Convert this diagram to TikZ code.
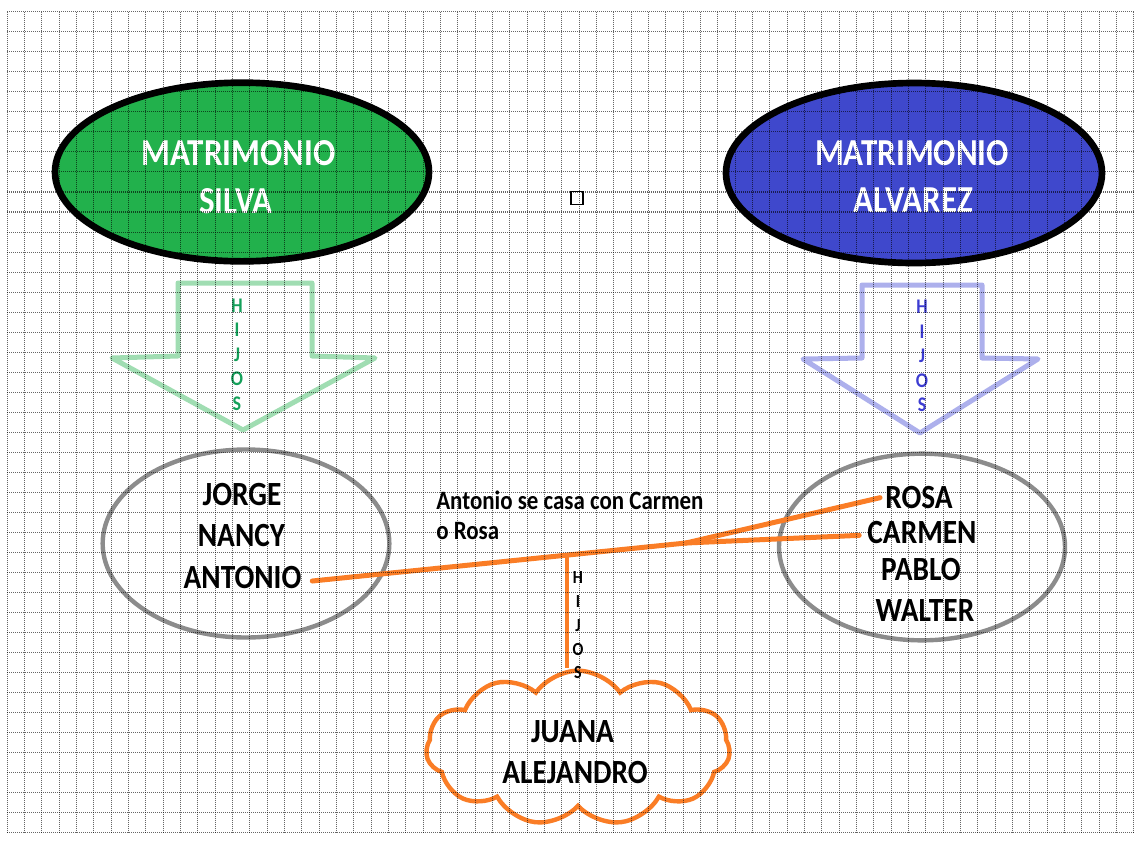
\documentclass[tikz,border=0pt]{standalone}
\usepackage{fontspec}
\setmainfont{Carlito}
\usepackage{graphicx}
\usetikzlibrary{shapes.geometric,shapes.symbols}
\definecolor{fgreen}{RGB}{34,177,76}
\definecolor{fblue}{RGB}{63,72,204}
\definecolor{forange}{RGB}{250,125,38}
\definecolor{fgray}{RGB}{140,140,140}
\definecolor{agreen}{RGB}{150,218,170}
\definecolor{ablue}{RGB}{165,168,235}
\definecolor{tgreen}{RGB}{20,160,90}
\definecolor{tblue}{RGB}{60,60,210}
\newcommand{\vstr}[1]{\scalebox{1}[1.155]{#1}}
\begin{document}
\begin{tikzpicture}[x=0.75pt,y=-0.75pt,
  title/.style={font=\fontsize{24.75}{36}\selectfont\bfseries, text=white, inner sep=0pt, anchor=base},
  person/.style={font=\fontsize{22}{30}\selectfont\bfseries, text=black, inner sep=0pt, anchor=base},
  note/.style={font=\fontsize{17.2}{22.5}\selectfont\bfseries, text=black, inner sep=0pt, align=left},
  hijosg/.style={font=\fontsize{13.5}{18.4}\selectfont\bfseries, inner sep=0pt, align=center, anchor=north},
  hijosk/.style={font=\fontsize{12}{17.8}\selectfont\bfseries, text=black, inner sep=0pt, align=center, anchor=north},
  family/.style={ellipse, draw=black, line width=5pt, inner sep=0pt},
  group/.style={ellipse, draw=fgray, line width=3.3pt, inner sep=0pt, minimum width=215pt, minimum height=141pt},
  blockarrow/.style={line width=3.75pt, line join=round, opacity=0.9},
  conn/.style={draw=forange, line width=3.75pt, line cap=round},
  conndown/.style={draw=forange, line width=3pt},
  gridline/.style={black, opacity=0.6, line width=0.8pt, dash pattern=on 0.75pt off 0.75pt}
]
\useasboundingbox (0,0) rectangle (1136,840);
\fill[white] (0,0) rectangle (1136,840);

% marriages
\node[family, fill=fgreen, minimum width=280.5pt, minimum height=134pt] (silva) at (242,172) {};
\node[family, fill=fblue, minimum width=282pt, minimum height=135pt] (alvarez) at (914,173) {};
\node[title] (t1a) at (238.5,165) {\vstr{MATRIMONIO}};
\node[title] (t1b) at (236,213) {\vstr{SILVA}};
\node[title] (t2a) at (912,165) {\vstr{MATRIMONIO}};
\node[title] (t2b) at (913.5,212) {\vstr{ALVAREZ}};

% small square
\node[draw=black, line width=1.2pt, minimum width=9pt, minimum height=10pt, inner sep=0pt] (sq) at (577,198) {};

% block arrows
\draw[blockarrow, draw=agreen] (178,283) -- (312,283) -- (312,356) -- (375,358) -- (243,430) -- (112,358) -- (178,356) -- cycle;
\draw[blockarrow, draw=ablue] (862,285) -- (982,285) -- (982,358) -- (1038,359) -- (920,433) -- (803,359) -- (862,358) -- cycle;
\node[hijosg, text=tgreen] (hg) at (237,298.3) {\vstr{H}\\\vstr{I}\\\vstr{J}\\\vstr{O}\\\vstr{S}};
\node[hijosg, text=tblue] (hb) at (922,300) {\vstr{H}\\\vstr{I}\\\vstr{J}\\\vstr{O}\\\vstr{S}};

% children groups
\node[group] (gsilva) at (246,543.5) {};
\node[group, minimum width=214.5pt, minimum height=140pt] (galvarez) at (922,547) {};
\node[person] (jorge) at (242,505) {\vstr{JORGE}};
\node[person] (nancy) at (241.5,546) {\vstr{NANCY}};
\node[person] (antonio) at (242.5,588) {\vstr{ANTONIO}};
\node[person] (rosa) at (919,508) {\vstr{ROSA}};
\node[person] (carmen) at (922,543) {\vstr{CARMEN}};
\node[person] (pablo) at (921,580) {\vstr{PABLO}};
\node[person] (walter) at (925,621.5) {\vstr{WALTER}};

% note
\node[note, anchor=north west] (nota) at (436,490.7) {\vstr{Antonio se casa con Carmen}\\\vstr{o Rosa}};

% grandchildren cloud
\node[cloud, draw=forange, line width=3.3pt, cloud puffs=11, cloud puff arc=110, aspect=1.95, minimum width=228pt, minimum height=116pt, inner sep=0pt] (nietos) at (578,748) {};
\node[person] (juana) at (572.5,742) {\vstr{JUANA}};
\node[person] (alejandro) at (575,783) {\vstr{ALEJANDRO}};

% connectors
\coordinate (junc) at (686,543);
\draw[conn] ([xshift=8pt,yshift=-3pt]antonio.east) -- coordinate[pos=0.681] (split) (junc);
\draw[conn] (junc) -- ([xshift=-3.75pt,yshift=-0.5pt]rosa.west);
\draw[conn] (junc) -- ([xshift=-6pt,yshift=-2.5pt]carmen.west);
\draw[conndown] (split) -- (split |- nietos.north);
\node[hijosk] (hk) at (578,571.7) {\vstr{H}\\\vstr{I}\\\vstr{J}\\\vstr{O}\\\vstr{S}};

% grid overlay
\begin{scope}[gridline]
\foreach \k in {0,...,65} \draw ({7.3+\k*17.333},11.7) -- ({7.3+\k*17.333},832.9);
\foreach \j in {0,...,41} \draw (7.3,{11.7+\j*20.03}) -- (1134,{11.7+\j*20.03});
\end{scope}
\end{tikzpicture}
\end{document}
